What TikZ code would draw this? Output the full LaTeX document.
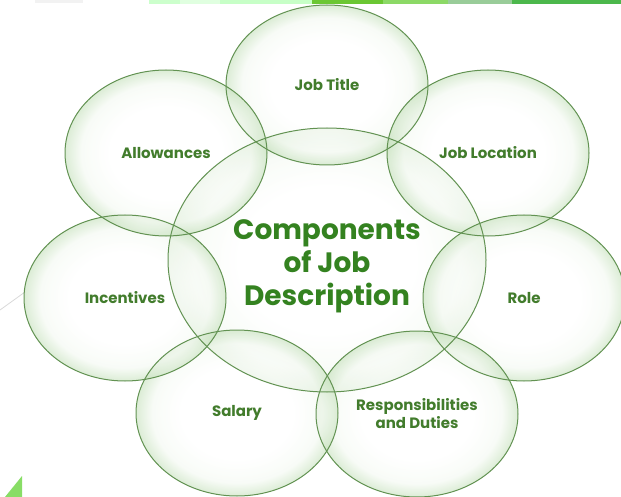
\documentclass[tikz,border=0pt]{standalone}
\usepackage{fontspec}
\setmainfont{Poppins}
\usetikzlibrary{shapes.geometric}
\definecolor{rim}{RGB}{98,146,82}
\definecolor{leaf}{RGB}{66,124,44}
\definecolor{title}{RGB}{52,130,32}
\definecolor{glass}{RGB}{196,224,186}
\pgfdeclareradialshading{bubble}{\pgfpoint{0bp}{0bp}}{color(0bp)=(white); color(14bp)=(white); color(21bp)=(glass!20!white); color(25bp)=(glass); color(50bp)=(glass)}

\begin{document}
\begin{tikzpicture}[x=1pt,y=-1pt]
\tikzset{bubble/.style ={ellipse, shading=bubble, fill opacity=0.6, text opacity=1,
  minimum width=202pt, minimum height=166pt, inner sep=0pt, font=\bfseries\fontsize{15}{18}\selectfont, text=leaf, align=center}}
\tikzset{hub/.style ={bubble, minimum width=318pt, minimum height=264pt}}
\tikzset{rimline/.style ={draw=rim, line width=1pt}}
\useasboundingbox (0,0) rectangle (621,497);
% slide decoration
\fill[gray!10] (35,0) rectangle (83,3);
\fill[green!20!white] (149,0) rectangle (180,4);
\fill[green!12!white] (180,0) rectangle (220,4);
\fill[green!22!white] (220,0) rectangle (312,4);
\fill[green!45!olive!80!white] (312,0) rectangle (383,4);
\fill[green!50!olive!60!white] (383,0) rectangle (448,4);
\fill[green!50!black!40!white] (448,0) rectangle (512,4);
\fill[green!60!black!70!white] (512,0) rectangle (621,4);
\draw[gray!30, line width=0.8pt] (0,310) -- (25,292);
\fill[green!55!olive!60!white] (5,497) -- (22,476) -- (22,497) -- cycle;
% bubbles
\node[hub] (core) at (327,260) {};
\node[bubble, minimum height=160pt] (title) at (327,85) {Job Title};
\node[bubble] (location) at (488,153) {Job Location};
\node[bubble] (role) at (524,298) {Role};
\node[bubble] (duties) at (417,414) {Responsibilities\\and Duties};
\node[bubble] (salary) at (237,413) {Salary};
\node[bubble] (incentives) at (125,298) {Incentives};
\node[bubble] (allowances) at (166,153) {Allowances};
% rims on top
\foreach \n/\rx/\ry in {core/159/132, title/101/80, location/101/83, role/101/83,
  duties/101/83, salary/101/83, incentives/101/83, allowances/101/83}
  \draw[rimline] (\n.center) ellipse [x radius=\rx, y radius=\ry];
\node[font=\bfseries\fontsize{28}{33}\selectfont, text=title, align=center] (heading) at ([yshift=-6pt]core.center) {Components\\of Job\\Description};
\end{tikzpicture}
\end{document}
